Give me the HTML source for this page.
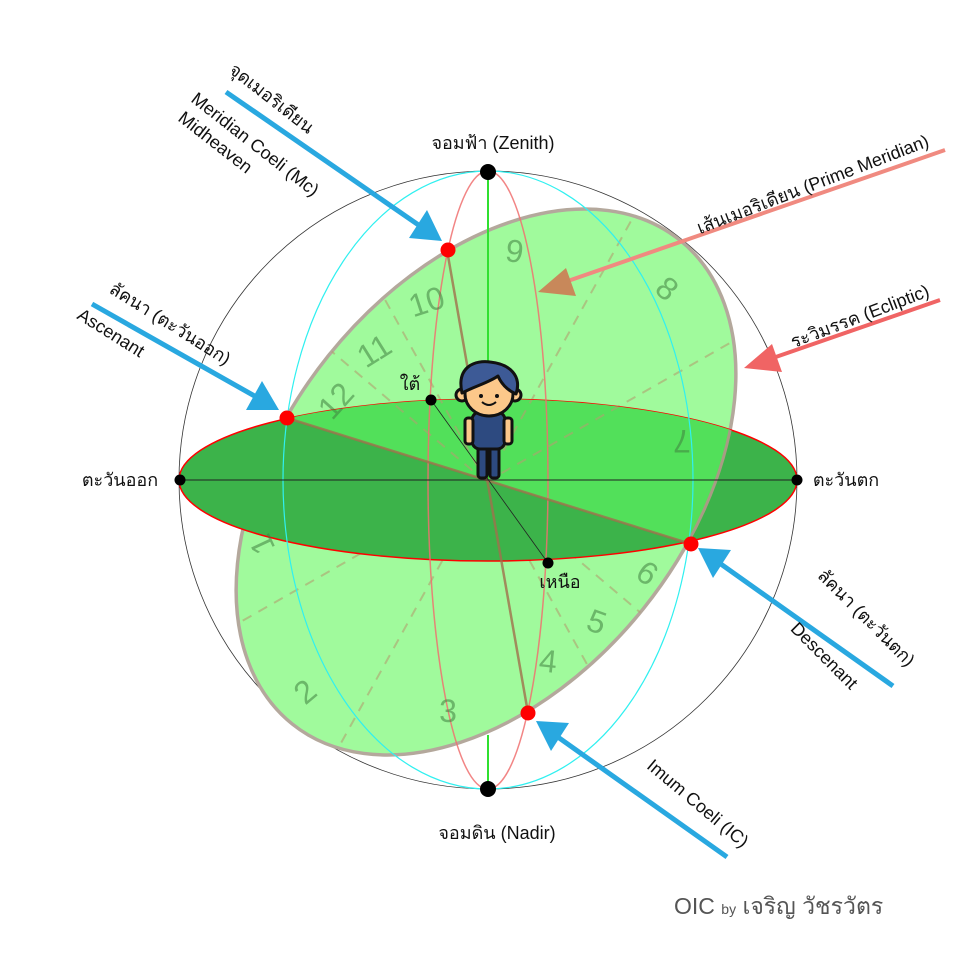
<!DOCTYPE html>
<html><head><meta charset="utf-8"><style>
html,body{margin:0;padding:0;background:#fff;width:960px;height:960px;overflow:hidden}
svg{display:block}
text{font-family:"Liberation Sans","Noto Sans CJK SC",sans-serif;}
</style></head><body>
<svg width="960" height="960" viewBox="0 0 960 960" xmlns="http://www.w3.org/2000/svg">
<defs>
<clipPath id="hor"><ellipse cx="488" cy="480" rx="309" ry="81"/></clipPath>
<clipPath id="upper"><polygon points="0,0 960,0 960,548 691,544 287,418 0,330"/></clipPath>
</defs>
<circle cx="488" cy="480" r="309" fill="none" stroke="#333" stroke-width="0.8"/>
<g transform="translate(486,482) rotate(-51.3)">
<ellipse cx="0" cy="0" rx="310" ry="202" fill="#a0fa9c" stroke="#b4a89c" stroke-width="3.5"/>
</g>
<g id="dash" stroke="#b0a070" stroke-opacity="0.6" stroke-width="2" stroke-dasharray="10,8" fill="none" transform="translate(486,482) rotate(-51.3)">
<line x1="0" y1="0" x2="5.4" y2="-202"/>
<line x1="0" y1="0" x2="80" y2="-195"/>
<line x1="0" y1="0" x2="300" y2="-51"/>
<line x1="0" y1="0" x2="265" y2="105"/>
<line x1="0" y1="0" x2="-5.4" y2="202"/>
<line x1="0" y1="0" x2="-80" y2="195"/>
<line x1="0" y1="0" x2="-300" y2="51"/>
<line x1="0" y1="0" x2="-265" y2="-105"/>
</g>
<ellipse cx="488" cy="480" rx="309" ry="81" fill="#3cb34a" stroke="#f00" stroke-width="1.5"/>
<g clip-path="url(#hor)"><g clip-path="url(#upper)">
<g transform="translate(486,482) rotate(-51.3)">
<ellipse cx="0" cy="0" rx="310" ry="202" fill="#52e05a" stroke="#a89c84" stroke-width="3"/>
</g>
<use href="#dash"/>
</g></g>
<ellipse cx="488" cy="480" rx="205" ry="309" fill="none" stroke="#30f0f0" stroke-width="1.2"/>
<ellipse cx="488" cy="480" rx="60" ry="309" fill="none" stroke="#f07070" stroke-opacity="0.85" stroke-width="1.5"/>
<line x1="488" y1="171" x2="488" y2="480" stroke="#30e030" stroke-width="2"/>
<line x1="488" y1="735" x2="488" y2="789" stroke="#30e030" stroke-width="2"/>
<g stroke="#a0704c" stroke-opacity="0.8" stroke-width="2.5">
<line x1="447" y1="250" x2="528" y2="713"/>
<line x1="287" y1="418" x2="691" y2="544"/>
</g>
<line x1="180" y1="480" x2="797" y2="480" stroke="#222" stroke-opacity="0.8" stroke-width="1.2"/>
<line x1="431" y1="400" x2="548" y2="563" stroke="#222" stroke-width="0.8"/>
<g font-size="32" fill="#3f7f3f" fill-opacity="0.55" text-anchor="middle">
<text transform="translate(513,262) rotate(8)">9</text>
<text transform="translate(430,312) rotate(-18)">10</text>
<text transform="translate(380,360) rotate(-32)">11</text>
<text transform="translate(344,408) rotate(-48)">12</text>
<text transform="translate(272,540) rotate(-115)">1</text>
<text transform="translate(312,700) rotate(-40)">2</text>
<text transform="translate(448,722) rotate(0)">3</text>
<text transform="translate(547,672) rotate(6)">4</text>
<text transform="translate(593,632) rotate(20)">5</text>
<text transform="translate(641,582) rotate(35)">6</text>
<text transform="translate(682,430) rotate(180)">7</text>
<text transform="translate(660,297) rotate(40)">8</text>
</g>
<circle cx="488" cy="172" r="8" fill="#000"/>
<circle cx="488" cy="789" r="8" fill="#000"/>
<circle cx="180" cy="480" r="5.5" fill="#000"/>
<circle cx="797" cy="480" r="5.5" fill="#000"/>
<circle cx="431" cy="400" r="5.5" fill="#000"/>
<circle cx="548" cy="563" r="5.5" fill="#000"/>
<circle cx="448" cy="250" r="7.5" fill="#f00"/>
<circle cx="528" cy="713" r="7.5" fill="#f00"/>
<circle cx="287" cy="418" r="7.5" fill="#f00"/>
<circle cx="691" cy="544" r="7.5" fill="#f00"/>
<g stroke="#111" stroke-width="3" stroke-linejoin="round">
<rect x="478" y="440" width="9" height="38" rx="3" fill="#2d4a80"/>
<rect x="490" y="440" width="9" height="38" rx="3" fill="#2d4a80"/>
<rect x="472" y="412" width="33" height="37" rx="8" fill="#2d4a80"/>
<rect x="465" y="418" width="8" height="26" rx="3" fill="#fcc88a"/>
<rect x="504" y="418" width="8" height="26" rx="3" fill="#fcc88a"/>
<circle cx="462" cy="395" r="6" fill="#fcc88a"/>
<circle cx="515" cy="395" r="6" fill="#fcc88a"/>
<ellipse cx="489" cy="394" rx="24" ry="22" fill="#fcc88a"/>
<path d="M462 393 C456 366 476 360 490 362 C510 364 522 376 516 394 C507 390 501 383 498 376 C488 383 475 386 462 393Z" fill="#3d5a96"/>
</g>
<path d="M482 402 Q489 408 496 402" stroke="#111" stroke-width="2" fill="none"/>
<circle cx="481" cy="396" r="2" fill="#111"/><circle cx="497" cy="396" r="2" fill="#111"/>
<g stroke="#29a8e0" stroke-width="5" fill="#29a8e0">
<line x1="226" y1="92" x2="420" y2="226"/>
<line x1="92" y1="304" x2="258" y2="398"/>
<line x1="893" y1="686" x2="718" y2="562"/>
<line x1="727" y1="857" x2="555" y2="735"/>
</g>
<g fill="#29a8e0">
<polygon points="442,241 409,238 427,210"/>
<polygon points="279,410 246,410 262,381"/>
<polygon points="698,548 731,550 713,578"/>
<polygon points="536,721 569,723 551,751"/>
</g>
<line x1="945" y1="150" x2="565" y2="282" stroke="#f08a80" stroke-width="4"/>
<polygon points="538,292 566,268 576,296" fill="#c8885a"/>
<line x1="940" y1="300" x2="770" y2="359" stroke="#f06464" stroke-width="4"/>
<polygon points="744,368 772,344 782,372" fill="#f06464"/>
<g font-size="18" fill="#111">
<text transform="translate(228,72) rotate(38)">จุดเมอริเดียน</text>
<text transform="translate(190,101) rotate(38)">Meridian Coeli  (Mc)</text>
<text transform="translate(177,120) rotate(38)">Midheaven</text>
<text x="493" y="149" text-anchor="middle">จอมฟ้า (Zenith)</text>
<text transform="translate(815,190) rotate(-21)" text-anchor="middle">เส้นเมอริเดียน (Prime Meridian)</text>
<text transform="translate(862,322) rotate(-21)" text-anchor="middle">ระวิมรรค (Ecliptic)</text>
<text transform="translate(108,292) rotate(32)">ลัคนา (ตะวันออก)</text>
<text transform="translate(76,318) rotate(32)">Ascenant</text>
<text x="120" y="486" text-anchor="middle">ตะวันออก</text>
<text x="846" y="486" text-anchor="middle">ตะวันตก</text>
<text x="410" y="390" text-anchor="middle">ใต้</text>
<text x="560" y="588" text-anchor="middle">เหนือ</text>
<text transform="translate(862,622) rotate(45)" text-anchor="middle">ลัคนา (ตะวันตก)</text>
<text transform="translate(820,660) rotate(45)" text-anchor="middle">Descenant</text>
<text transform="translate(694,808) rotate(40)" text-anchor="middle">Imum Coeli (IC)</text>
<text x="497" y="839" text-anchor="middle">จอมดิน (Nadir)</text>
</g>
<text x="674" y="914" font-size="23" fill="#555">OIC <tspan font-size="14">by</tspan> เจริญ วัชรวัตร</text>
</svg>
</body></html>
